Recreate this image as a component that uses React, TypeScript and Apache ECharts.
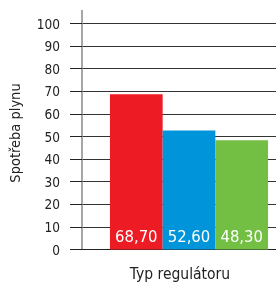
import React, { useEffect, useRef } from "react";
import * as echarts from "echarts";

const categories = [""];
const seriesNames = ["A", "B", "C"];
const seriesValues = [68.7, 52.6, 48.3];
const seriesColors = ["#ED1C24", "#0095DA", "#72BF44"];
const yAxisName = "Spotřeba plynu";
const xAxisName = "Typ regulátoru";

const FONT = "'DejaVu Sans Condensed', 'Liberation Sans Narrow', sans-serif";

export default function App() {
  const ref = useRef<HTMLDivElement>(null);
  useEffect(() => {
    if (!ref.current) return;
    const chart = echarts.init(ref.current, undefined, { renderer: "svg" });
    chart.setOption({
      animation: false,
      grid: { left: 82, right: 0, top: 23.5, bottom: 35.5 },
      xAxis: {
        type: "category",
        data: categories,
        axisLine: { lineStyle: { color: "#222", width: 1 } },
        axisTick: { show: false },
        axisLabel: { show: false },
      },
      yAxis: {
        type: "value",
        min: 0,
        max: 100,
        interval: 10,
        axisLine: { show: true, lineStyle: { color: "#888", width: 1.5 } },
        axisTick: { show: true, length: 12, lineStyle: { color: "#222", width: 1 } },
        axisLabel: {
          margin: 22,
          fontFamily: FONT,
          fontSize: 13.5,
          color: "#222",
        },
        splitLine: { show: true, lineStyle: { color: "#333", width: 1 } },
      },
      graphic: [
        {
          type: "line",
          shape: { x1: 82, y1: 10, x2: 82, y2: 24 },
          style: { stroke: "#888", lineWidth: 1.5 },
        },
        {
          type: "text",
          x: 15,
          y: 133,
          rotation: Math.PI / 2,
          style: {
            text: yAxisName,
            fontFamily: FONT,
            fontSize: 14.5,
            fill: "#222",
            align: "center",
            verticalAlign: "middle",
          },
        },
        {
          type: "text",
          x: 180,
          y: 274,
          style: {
            text: xAxisName,
            fontFamily: FONT,
            fontSize: 15.5,
            fill: "#222",
            align: "center",
            verticalAlign: "middle",
          },
        },
      ],
      series: seriesValues.map((v, i) => ({
        name: seriesNames[i],
        type: "bar",
        data: [v],
        barWidth: 52.7,
        barGap: "0%",
        itemStyle: { color: seriesColors[i] },
        label: {
          show: true,
          position: "insideBottom",
          distance: 5,
          color: "#fff",
          fontFamily: FONT,
          fontSize: 16.5,
          formatter: (p: any) => Number(p.value).toFixed(2).replace(".", ","),
        },
      })),
    });
    return () => chart.dispose();
  }, []);
  return (
    <div
      style={{
        position: "fixed",
        left: 0,
        top: 0,
        width: 276,
        height: 285,
        overflow: "hidden",
      }}
    >
      <div ref={ref} style={{ width: 296, height: 285 }} />
    </div>
  );
}
